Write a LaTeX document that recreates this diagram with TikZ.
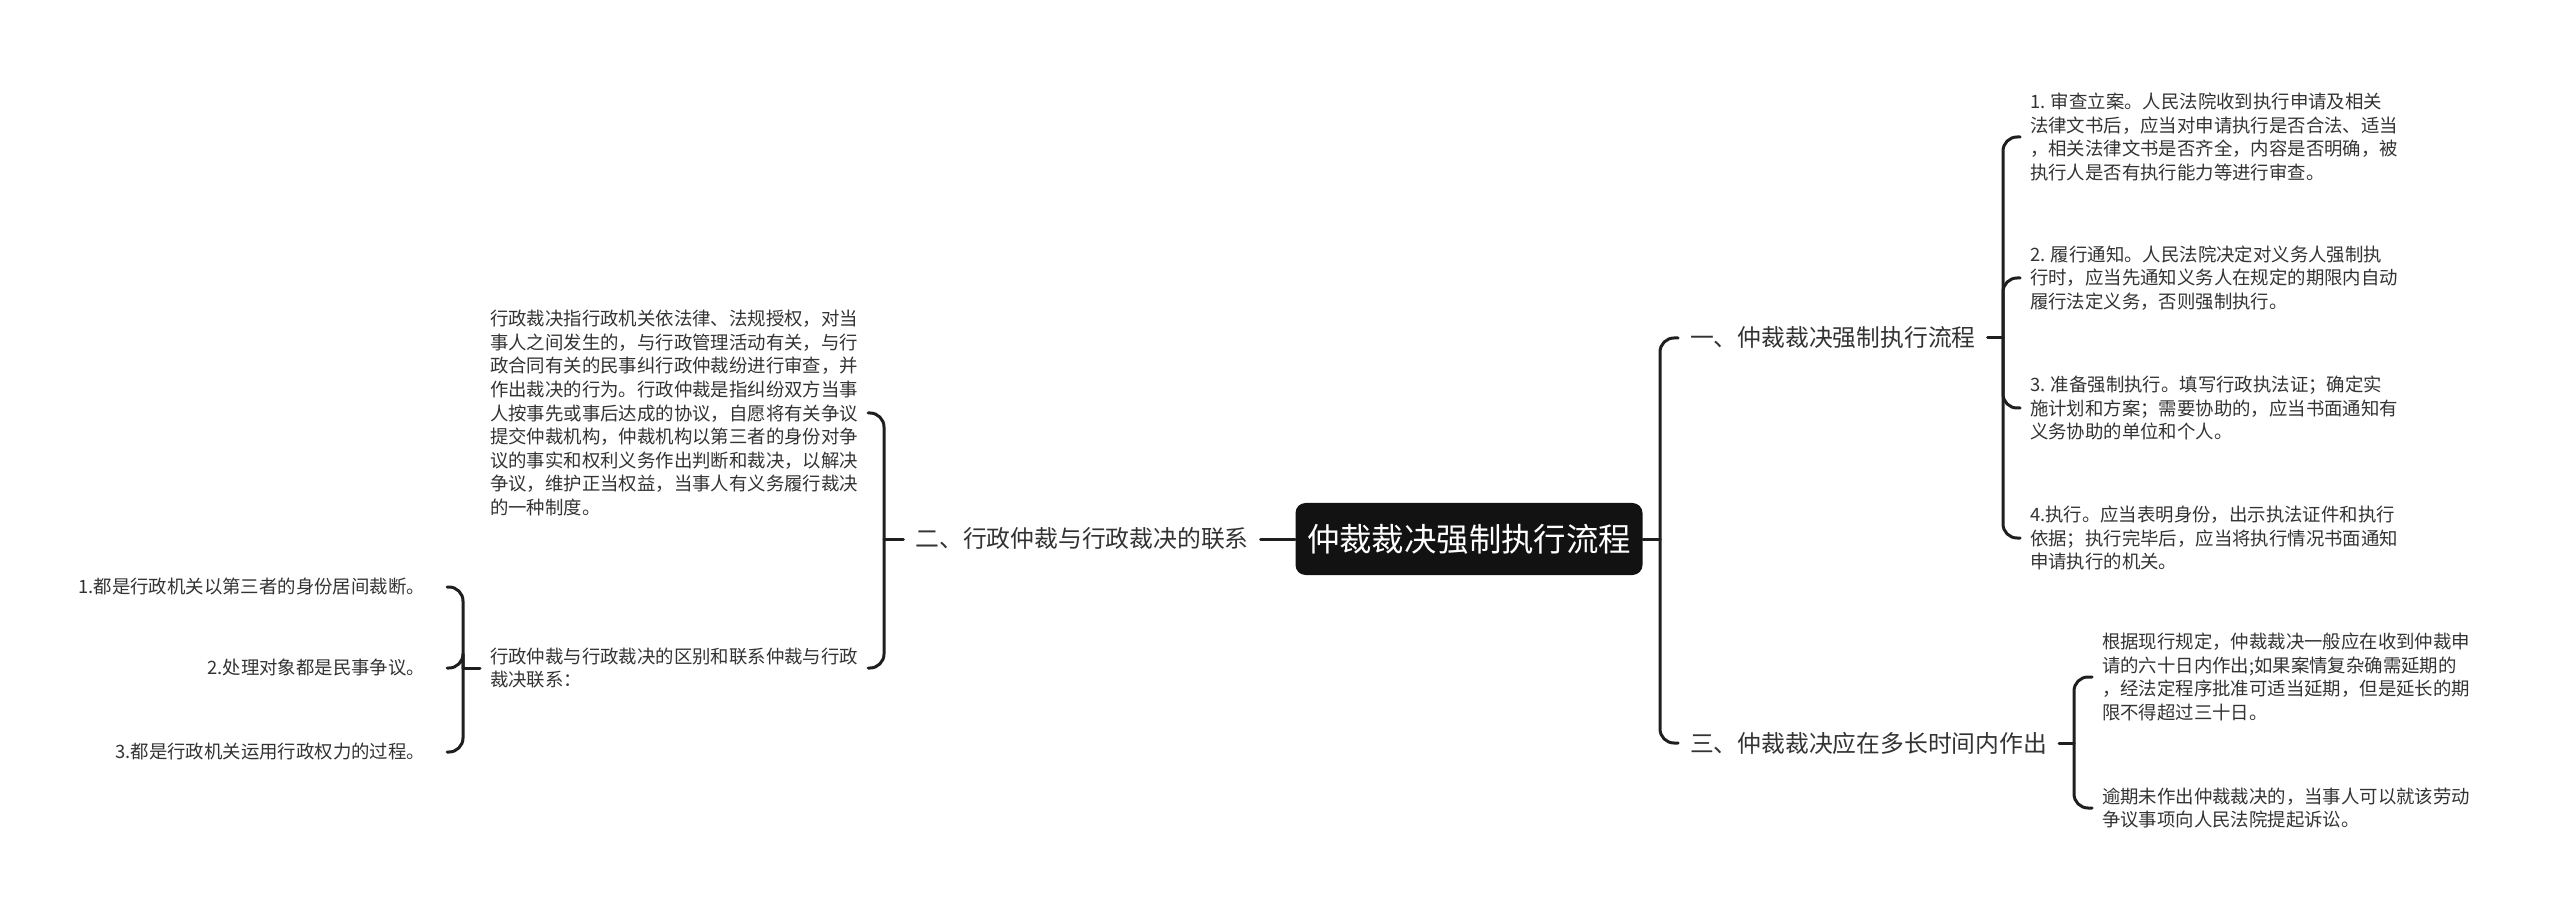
\documentclass[tikz,border=0pt]{standalone}
\usepackage{fontspec}
\setmainfont{Noto Sans CJK SC}
\usepackage{tikz}

\begin{document}
\begin{tikzpicture}[x=.5pt,y=-.5pt,line cap=round,line join=round,
  link/.style={draw=black!88,line width=1.5pt,rounded corners=7pt},
  topic/.style={fill=black!93,text=white,rounded corners=5pt,inner sep=0pt,
    minimum width=173.5pt,minimum height=36pt,font=\fontsize{16.2}{19}\selectfont},
  branch/.style={font=\fontsize{11.9}{14}\selectfont,text=black!80,inner sep=0pt,outer xsep=6pt},
  leaf/.style={font=\fontsize{9.2}{11.8}\selectfont,text=black!80,align=left,inner sep=0pt,outer xsep=5pt},
  item/.style={leaf,outer xsep=11pt}]
\useasboundingbox (0,0) rectangle (2560,919);

% Centre topic.
\node[topic] (root) at (1469,539) {仲裁裁决强制执行流程};

% Left side.
\node[branch] (b2) at (1082,539) {二、行政仲裁与行政裁决的联系};
\node[leaf,anchor=west] (l1) at (480,413) {行政裁决指行政机关依法律、法规授权，对当\\
  事人之间发生的，与行政管理活动有关，与行\\
  政合同有关的民事纠行政仲裁纷进行审查，并\\
  作出裁决的行为。行政仲裁是指纠纷双方当事\\
  人按事先或事后达成的协议，自愿将有关争议\\
  提交仲裁机构，仲裁机构以第三者的身份对争\\
  议的事实和权利义务作出判断和裁决，以解决\\
  争议，维护正当权益，当事人有义务履行裁决\\
  的一种制度。};
\node[leaf,anchor=west] (l2) at (480,668) {行政仲裁与行政裁决的区别和联系仲裁与行政\\
  裁决联系：};
\node[item,anchor=east] (c1) at (447,587) {1.都是行政机关以第三者的身份居间裁断。};
\node[item,anchor=east] (c2) at (447,668) {2.处理对象都是民事争议。};
\node[item,anchor=east] (c3) at (447,752) {3.都是行政机关运用行政权力的过程。};

\coordinate (jl) at (884,539);
\coordinate (jc) at (463,668);
\draw[link] (root.west) -- (b2.east);
\draw[link] (b2.west) -- (jl);
\draw[link] (jl) |- (l1.east);
\draw[link] (jl) |- (l2.east);
\draw[link] (l2.west) -- (jc);
\foreach \c in {c1,c2,c3}
  \draw[link] (jc) |- (\c.east);

% Right side.
\node[branch,anchor=west] (b1) at (1678,338) {一、仲裁裁决强制执行流程};
\node[branch,anchor=west] (b3) at (1678,743) {三、仲裁裁决应在多长时间内作出};
\node[leaf,anchor=west] (r1) at (2020,137) {1. 审查立案。人民法院收到执行申请及相关\\
  法律文书后，应当对申请执行是否合法、适当\\
  ，相关法律文书是否齐全，内容是否明确，被\\
  执行人是否有执行能力等进行审查。};
\node[leaf,anchor=west] (r2) at (2020,278) {2. 履行通知。人民法院决定对义务人强制执\\
  行时，应当先通知义务人在规定的期限内自动\\
  履行法定义务，否则强制执行。};
\node[leaf,anchor=west] (r3) at (2020,408) {3. 准备强制执行。填写行政执法证；确定实\\
  施计划和方案；需要协助的，应当书面通知有\\
  义务协助的单位和个人。};
\node[leaf,anchor=west] (r4) at (2020,538) {4.执行。应当表明身份，出示执法证件和执行\\
  依据；执行完毕后，应当将执行情况书面通知\\
  申请执行的机关。};
\node[leaf,anchor=west] (r5) at (2092,677) {根据现行规定，仲裁裁决一般应在收到仲裁申\\
  请的六十日内作出;如果案情复杂确需延期的\\
  ，经法定程序批准可适当延期，但是延长的期\\
  限不得超过三十日。};
\node[leaf,anchor=west] (r6) at (2092,808) {逾期未作出仲裁裁决的，当事人可以就该劳动\\
  争议事项向人民法院提起诉讼。};

\coordinate (jr) at (1660,539);
\coordinate (j1) at (2003,338);
\coordinate (j3) at (2074,743);
\draw[link] (root.east) -- (jr);
\draw[link] (jr) |- (b1.west);
\draw[link] (jr) |- (b3.west);
\draw[link] (b1.east) -- (j1);
\foreach \r in {r1,r2,r3,r4}
  \draw[link] (j1) |- (\r.west);
\draw[link] (b3.east) -- (j3);
\foreach \r in {r5,r6}
  \draw[link] (j3) |- (\r.west);
\end{tikzpicture}
\end{document}
